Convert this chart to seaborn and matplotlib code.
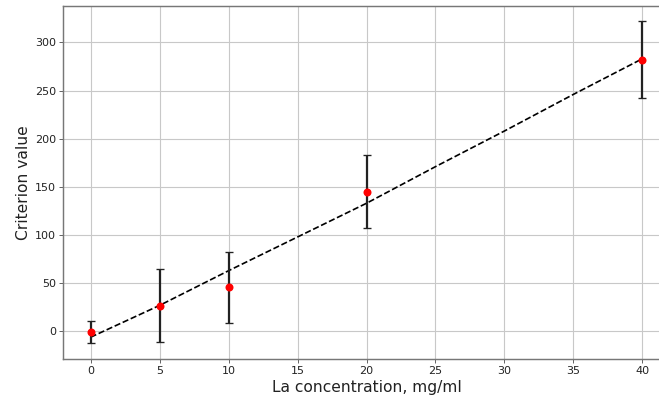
import matplotlib
matplotlib.use("Agg")
import matplotlib.pyplot as plt
import seaborn as sns
import pandas as pd

# measured points
conc = [0, 5, 10, 20, 40]
criterion = [-0.7, 26.7, 45.7, 145.0, 282.0]
errors = [11.7, 37.7, 37.1, 37.6, 40.0]

# fitted curve
fit_x = [0, 5, 10, 15, 20, 25, 30, 35, 40]
fit_y = [-6, 27, 63, 98, 133, 171, 208, 246, 283]

sns.set_style("white")
plt.rcParams['font.family'] = ['DejaVu Sans']

DPI = 80
fig = plt.figure(figsize=(659 / DPI, 399 / DPI), dpi=DPI)
ax = fig.add_axes([63/659, 40/399, 607/659, 353/399])

fit_df = pd.DataFrame({"x": fit_x, "y": fit_y})
pts_df = pd.DataFrame({"x": conc, "y": criterion})

sns.lineplot(data=fit_df, x="x", y="y", ax=ax, color="black", linestyle="--",
             linewidth=1.5, zorder=2)
ax.errorbar(conc, criterion, yerr=errors, fmt="none", ecolor="#222222",
            elinewidth=2, capsize=4, capthick=1.2, zorder=3)
sns.scatterplot(data=pts_df, x="x", y="y", ax=ax, color="red", s=52,
                edgecolor="red", linewidth=0, zorder=4)

ax.set_xlim(-2, 42)
ax.set_ylim(-28.6, 337.7)
ax.set_xticks([0, 5, 10, 15, 20, 25, 30, 35, 40])
ax.set_yticks([0, 50, 100, 150, 200, 250, 300])
ax.grid(True, color="#c8c8c8", linewidth=1)
ax.set_axisbelow(True)
ax.tick_params(axis="both", labelsize=10, length=3.5, pad=3, width=0.8,
               color="#555555", left=True, bottom=True, labelcolor="#222222")
for s in ax.spines.values():
    s.set_color("#777777")
    s.set_linewidth(1.3)
ax.set_xlabel("La concentration, mg/ml", fontsize=14, color="#222222", labelpad=3)
ax.set_ylabel("Criterion value", fontsize=14, color="#222222", labelpad=3)

fig.savefig("out.png", dpi=DPI)
